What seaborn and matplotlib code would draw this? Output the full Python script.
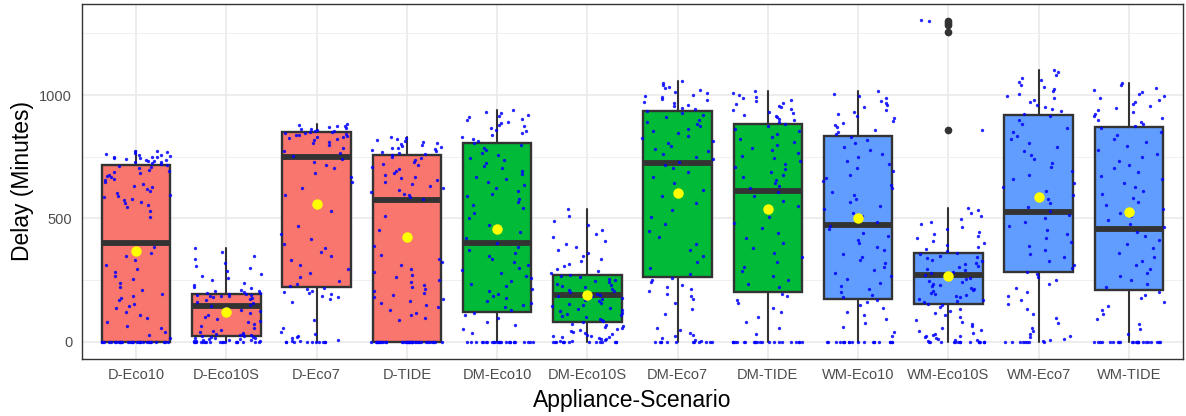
import numpy as np
import pandas as pd
import matplotlib
matplotlib.use("Agg")
import matplotlib.pyplot as plt
import seaborn as sns

# categories and box statistics
scenarios = ["D-Eco10", "D-Eco10S", "D-Eco7", "D-TIDE",
             "DM-Eco10", "DM-Eco10S", "DM-Eco7", "DM-TIDE",
             "WM-Eco10", "WM-Eco10S", "WM-Eco7", "WM-TIDE"]
appliance = ["D", "D", "D", "D", "DM", "DM", "DM", "DM", "WM", "WM", "WM", "WM"]

q1 = [0, 23, 221, 0, 123, 80, 262, 201, 173, 152, 285, 211]
median = [400, 146, 751, 576, 400, 189, 724, 613, 473, 272, 527, 458]
q3 = [715, 196, 850, 758, 805, 273, 934, 884, 835, 361, 919, 870]
whisker_low = [0, 0, 0, 0, 0, 0, 0, 0, 0, 0, 0, 0]
whisker_high = [775, 381, 881, 829, 938, 540, 1058, 1016, 1016, 544, 1103, 1050]
means = [370, 120, 559, 423, 457, 191, 604, 540, 501, 268, 585, 525]
outliers = {"WM-Eco10S": [858, 1255, 1283, 1293, 1300]}

# jittered observations (estimated from the dot clouds)
d_eco10 = [0] * 30 + [
    15, 28, 42, 58, 66, 81, 97, 108, 122, 138, 147, 155, 168, 176, 188, 196, 210, 222,
    238, 255, 268, 283, 296, 312, 330, 348, 362, 385, 505,
    532, 546, 553, 561, 568, 574, 579, 586, 592, 597, 604, 611, 619, 627, 633, 641, 648,
    656, 661, 666, 672, 677, 683, 688, 693, 698, 703,
    710, 714, 718, 721, 724, 727, 729, 731, 734, 736, 738, 741, 743, 745, 747, 749, 751,
    753, 756, 758, 761, 764, 768, 772, 775]
d_eco10s = [0] * 18 + [
    2, 3, 5, 6, 8, 9, 11, 12, 14, 16, 17, 19, 21, 23, 25, 27, 29, 31, 34, 37, 40, 44,
    49, 56, 63, 71, 79, 86, 94, 101, 109, 117, 124, 131, 138, 144, 151, 157, 163, 169,
    174, 178, 181, 184, 186, 188, 190, 192, 194, 196, 198, 200, 202, 205, 208, 212, 217,
    223, 231, 240, 249, 258, 267, 276, 287, 298, 309, 321, 334, 349, 365, 381]
d_eco7 = [0] * 10 + [
    3, 5, 9, 14, 19, 26, 33, 42, 55, 88,
    163, 172, 180, 187, 193, 198, 203, 208, 213, 219, 226, 234, 246, 261, 278, 294, 312,
    331, 348, 365, 382, 398, 416, 437, 468, 530, 596, 622, 648, 667, 686, 703, 717, 729,
    741, 753, 764, 775, 786, 796, 804, 811, 817, 821, 825, 828, 831, 834, 837, 840, 842,
    845, 847, 849, 851, 853, 856, 858, 861, 864, 867, 870, 873, 876, 879, 881]
d_tide = [0] * 36 + [
    88, 97, 108, 119, 131, 142, 150, 158, 166, 175, 183, 191, 198, 206, 214, 223, 232,
    241, 251, 262, 273, 285, 297, 310, 323, 337, 352, 389, 452, 510,
    578, 586, 594, 601, 609, 617, 624, 632, 640, 647, 655, 662, 670, 678, 686, 693, 700,
    708, 715, 722, 729, 736, 743, 750, 756, 761, 765, 769, 773, 777, 780, 784, 787, 791,
    794, 798, 801, 805, 809, 813, 817, 821, 825, 829]
dm_eco10 = [0] * 26 + [
    36, 52, 68, 81, 95, 108, 118,
    131, 140, 149, 158, 167, 176, 186, 196, 206, 216, 226, 236, 247, 258, 268, 279, 290,
    301, 312, 324, 336, 348, 360, 372, 386, 399, 420, 445, 472, 500, 523,
    541, 553, 566, 578, 590, 601, 613, 624, 636, 647, 659, 670, 681, 692, 703, 714, 725,
    736, 746, 757, 767, 777, 787, 797, 806, 815, 823, 831, 839, 846, 853, 860, 867, 873,
    879, 885, 891, 897, 903, 909, 915, 921, 927, 933, 938]
dm_eco10s = [0] * 14 + [
    3, 5, 8, 10, 13, 15, 18, 20, 23, 26, 29, 32, 35, 39, 43, 47, 51, 55, 59,
    64, 69, 74, 79, 84, 89, 94, 99, 104, 109, 114, 119, 124, 129, 134, 139, 144, 149, 154,
    159, 164, 169, 174, 179, 184, 188, 192, 196, 201, 206, 211, 216, 221, 226, 231, 236,
    241, 246, 251, 256, 261, 266, 271,
    279, 288, 297, 306, 316, 326, 337, 348, 359, 371, 383, 396, 410, 424, 439, 455, 472,
    490, 512, 540]
dm_eco7 = [0] * 12 + [
    4, 9, 15, 22, 30, 38, 47, 58,
    112, 135, 158, 172, 184, 195, 205, 214, 223, 232, 241, 250, 259,
    275, 298, 322, 347, 373, 398, 424, 451, 478, 505, 533, 561, 589, 616, 643, 668, 690,
    706, 717, 728, 739, 750, 761, 772, 783, 794, 805, 815, 825, 835, 845, 855, 864, 873,
    882, 891, 900, 909, 918, 926, 934, 942, 948, 954, 960, 966, 972, 978, 984, 990, 996,
    1002, 1008, 1014, 1020, 1027, 1034, 1041, 1049, 1058]
dm_tide = [0] * 22 + [
    34, 58, 81, 102, 121, 139, 156, 171, 185, 196,
    221, 236, 252, 269, 287, 305, 324, 343, 362, 381, 401, 421, 441, 462, 483, 505, 527,
    549, 571, 593, 608, 622, 633, 644, 655, 666, 677, 688, 699, 710, 721, 732, 743, 754,
    765, 776, 787, 798, 809, 820, 831, 842, 853, 863, 873, 882,
    891, 897, 903, 909, 915, 921, 927, 933, 939, 945, 951, 957, 963, 969, 975, 981, 987,
    994, 1001, 1008, 1016]
wm_eco10 = [0] * 20 + [
    22, 41, 59, 76, 92, 108, 122, 136, 149, 161, 170,
    181, 192, 204, 216, 228, 240, 253, 266, 279, 292, 305, 318, 331, 344, 358, 372, 386,
    400, 414, 428, 442, 456, 470, 484, 497, 510, 524, 538, 552, 566, 580, 594, 608, 622,
    636, 650, 664, 678, 692, 706, 720, 734, 748, 762, 776, 790, 804, 818, 830,
    842, 851, 860, 869, 878, 887, 896, 905, 914, 923, 932, 941, 950, 959, 968, 977, 986,
    995, 1005, 1016]
wm_eco10s = [0] * 16 + [
    3, 6, 9, 12, 15, 18, 22, 26, 30, 34, 38, 43, 48,
    55, 63, 72, 81, 90, 99, 108, 117, 126, 134, 142, 149,
    155, 160, 165, 170, 175, 180, 185, 190, 195, 200, 205, 210, 215, 220, 225, 230, 236,
    242, 248, 254, 260, 266, 272, 278, 284, 290, 296, 302, 308, 314, 320, 326, 332, 338,
    344, 350, 356, 361,
    368, 376, 384, 392, 401, 410, 419, 428, 437, 446, 456, 466, 476, 487, 498, 510, 522,
    533, 544, 858, 1300, 1302]
wm_eco7 = [0] * 8 + [
    3, 7, 12, 18, 25, 33, 44,
    58, 77, 96, 115, 134, 152, 170, 187, 203, 219, 234, 249, 263, 276, 284,
    298, 312, 327, 342, 357, 372, 388, 404, 420, 436, 452, 468, 484, 500, 516, 532, 548,
    564, 580, 596, 612, 628, 644, 660, 676, 692, 708, 724, 740, 756, 772, 788, 804, 820,
    836, 852, 868, 884, 900, 916,
    925, 934, 943, 952, 961, 970, 979, 988, 997, 1006, 1015, 1024, 1033, 1042, 1051, 1060,
    1070, 1081, 1092, 1103]
wm_tide = [0] * 24 + [
    31, 52, 73, 93, 112, 130, 147, 163, 178, 192, 204,
    222, 236, 251, 266, 281, 297, 313, 329, 345, 362, 379, 396, 413, 430, 447, 464, 478,
    493, 508, 523, 538, 553, 568, 583, 598, 613, 628, 643, 658, 673, 688, 703, 718, 733,
    748, 763, 778, 793, 808, 823, 838, 852, 866,
    876, 884, 892, 900, 908, 916, 924, 932, 940, 948, 956, 964, 972, 980, 988, 996, 1004,
    1012, 1021, 1030, 1040, 1050]

observations = [d_eco10, d_eco10s, d_eco7, d_tide,
                dm_eco10, dm_eco10s, dm_eco7, dm_tide,
                wm_eco10, wm_eco10s, wm_eco7, wm_tide]

palette = {"D": "#F8766D", "DM": "#00BA38", "WM": "#619CFF"}

df = pd.DataFrame({
    "scenario": np.repeat(scenarios, [len(o) for o in observations]),
    "delay": np.concatenate(observations),
})

sns.set_style("white")
plt.rcParams["font.family"] = ["Liberation Sans", "DejaVu Sans"]

fig, ax = plt.subplots(figsize=(11.86, 4.16), dpi=100)
fig.subplots_adjust(left=0.0691, right=0.9975, top=0.990, bottom=0.1377)

stats = []
for i, s in enumerate(scenarios):
    stats.append(dict(label=s, q1=q1[i], med=median[i], q3=q3[i],
                      whislo=whisker_low[i], whishi=whisker_high[i],
                      fliers=outliers.get(s, [])))

edge = "#333333"
bp = ax.bxp(stats, positions=range(len(scenarios)), widths=0.76, patch_artist=True,
            showcaps=False, manage_ticks=False,
            boxprops=dict(edgecolor=edge, linewidth=1.7),
            medianprops=dict(color=edge, linewidth=4.2, solid_capstyle="butt"),
            whiskerprops=dict(color=edge, linewidth=1.5),
            flierprops=dict(marker="o", markerfacecolor=edge, markeredgecolor=edge,
                            markersize=4.5))
for patch, a in zip(bp["boxes"], appliance):
    patch.set_facecolor(palette[a])

np.random.seed(3)
sns.stripplot(data=df, x="scenario", y="delay", order=scenarios, color="#0000FF",
              size=2.4, jitter=0.4, alpha=0.85, linewidth=0, zorder=3, ax=ax)
sns.stripplot(x=scenarios, y=means, order=scenarios, jitter=False, color="#FFFF00",
              size=7.5, linewidth=0, zorder=4, ax=ax)

ax.set_xlim(-0.6, len(scenarios) - 0.4)
ax.set_ylim(-68, 1368)
ax.set_yticks([0, 500, 1000])
ax.set_yticks([250, 750, 1250], minor=True)
ax.set_axisbelow(True)
ax.grid(which="major", color="#E8E8E8", linewidth=1.1)
ax.grid(which="minor", axis="y", color="#F0F0F0", linewidth=0.7)
ax.xaxis.grid(True, color="#E8E8E8", linewidth=1.1)

for sp in ax.spines.values():
    sp.set_color(edge)
    sp.set_linewidth(1.0)
ax.tick_params(which="major", length=3, width=1, color=edge, labelcolor="#4D4D4D",
               labelsize=10.5, pad=4)
ax.tick_params(which="minor", length=0)

ax.set_xlabel("Appliance-Scenario", fontsize=16.5, color="black", labelpad=5)
ax.set_ylabel("Delay (Minutes)", fontsize=16.5, color="black", labelpad=4)

fig.savefig("out.png", dpi=100)
